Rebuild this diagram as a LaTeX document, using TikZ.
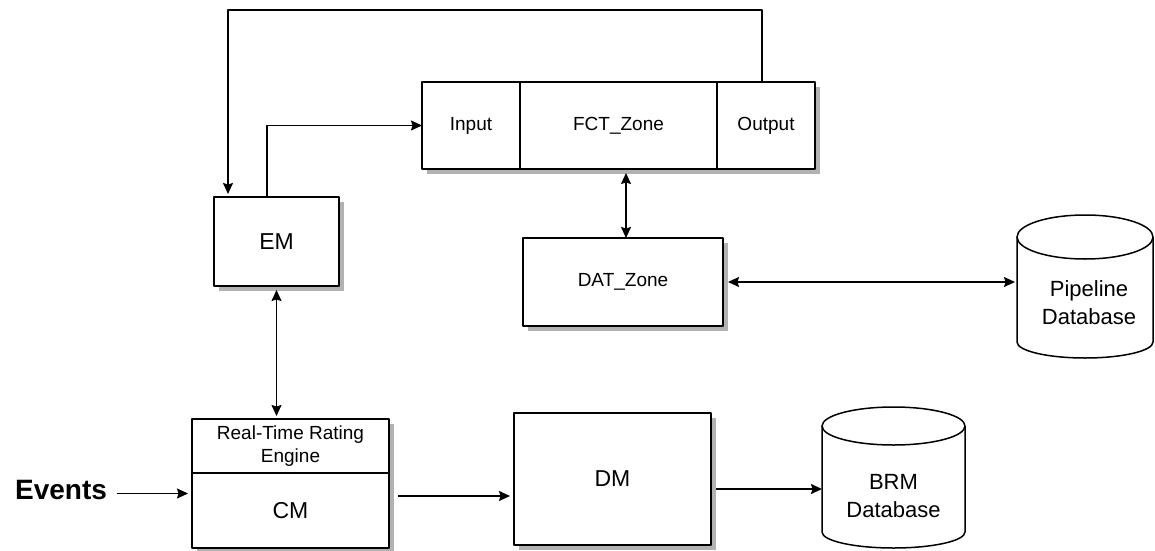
\documentclass[tikz,border=0pt]{standalone}
\usepackage{fontspec}
\setmainfont{Liberation Sans}
\usetikzlibrary{positioning,shadows,arrows.meta}
\begin{document}
\begin{tikzpicture}[x=1pt,y=1pt,line join=round,line width=1.5pt,
  >={Stealth[length=11pt,width=10pt,inset=1.5pt]},
  box/.style={draw,fill=white,inner sep=0pt,outer sep=0pt,
    drop shadow={shadow xshift=5pt,shadow yshift=-5pt,fill=black!30,opacity=1}},
  small/.style={font=\fontsize{19}{23}\selectfont,align=center},
  big/.style={font=\fontsize{23}{28}\selectfont},
  dbarea/.style={inner sep=0pt,outer sep=0pt},
  dbtext/.style={font=\fontsize{22}{28}\selectfont,align=center}]
  \useasboundingbox (0,0) rectangle (1155,550);

  % --- zona FCT a tre celle
  \node[box,small,minimum width=98,minimum height=87] (inp) at (471,424.5) {Input};
  \node[box,small,minimum width=197,minimum height=87,right=0pt of inp] (fct) {FCT\_Zone};
  \node[box,small,minimum width=98,minimum height=87,right=0pt of fct] (outp) {Output};

  % --- EM e DAT
  \node[box,big,minimum width=125,minimum height=89] (em) at (276.5,308.5) {EM};
  \node[box,small,minimum width=200,minimum height=88] (dat) at (623,268) {DAT\_Zone};

  % --- motore di rating con CM sotto
  \node[box,small,minimum width=197,minimum height=54] (rte) at (290.5,104) {Real-Time Rating\\Engine};
  \node[box,big,minimum width=197,minimum height=75,below=0pt of rte] (cm) {CM};
  \node[box,big,minimum width=197,minimum height=132] (dm) at (612.5,71) {DM};

  % --- i due database (cilindri disegnati sui bordi di un nodo vuoto)
  \node[dbarea,minimum width=136,minimum height=143] (pipe) at (1085,263.5) {};
  \draw ([yshift=-22]pipe.north west) -- ([yshift=16]pipe.south west)
    arc[start angle=180,end angle=360,x radius=68,y radius=16] -- ([yshift=-22]pipe.north east);
  \draw ([yshift=-22]pipe.north) ellipse[x radius=68,y radius=22];
  \node[dbtext] (pipetext) at (1089,247.5) {Pipeline\\Database};

  \node[dbarea,minimum width=143,minimum height=141] (brm) at (893.5,72.5) {};
  \draw ([yshift=-19]brm.north west) -- ([yshift=16]brm.south west)
    arc[start angle=180,end angle=360,x radius=71.5,y radius=16] -- ([yshift=-19]brm.north east);
  \draw ([yshift=-19]brm.north) ellipse[x radius=71.5,y radius=19];
  \node[dbtext] (brmtext) at (893.5,54) {BRM\\Database};

  \node[font=\fontsize{28}{34}\selectfont\bfseries,inner sep=0pt] (events) at (61,60) {Events};

  % --- collegamenti
  \draw[->,shorten >=3pt] ([xshift=-4]outp.north) -- ++(0,72) -| ([xshift=14]em.north west);
  \draw[->] ([xshift=-9.5]em.north) |- (inp.west);
  \draw[<->,shorten >=4pt] ([xshift=3]dat.north) -- ([xshift=3]dat.north |- fct.south);
  \draw[<->,shorten <=5pt,shorten >=2pt] (dat.east) -- (dat.east -| pipe.west);
  \draw[<->,shorten <=4pt,shorten >=3pt] (em.south) -- (em.south |- rte.north);
  \draw[->] ([xshift=9,yshift=6]events.base east) -- ([xshift=-4,yshift=6]events.base east -| cm.west);
  \draw[->] ([xshift=9,yshift=14.5]cm.east) -- ([xshift=-4,yshift=14.5]cm.east -| dm.west);
  \draw[->] ([xshift=5,yshift=-10]dm.east) -- ([yshift=-10]dm.east -| brm.west);
\end{tikzpicture}
\end{document}
